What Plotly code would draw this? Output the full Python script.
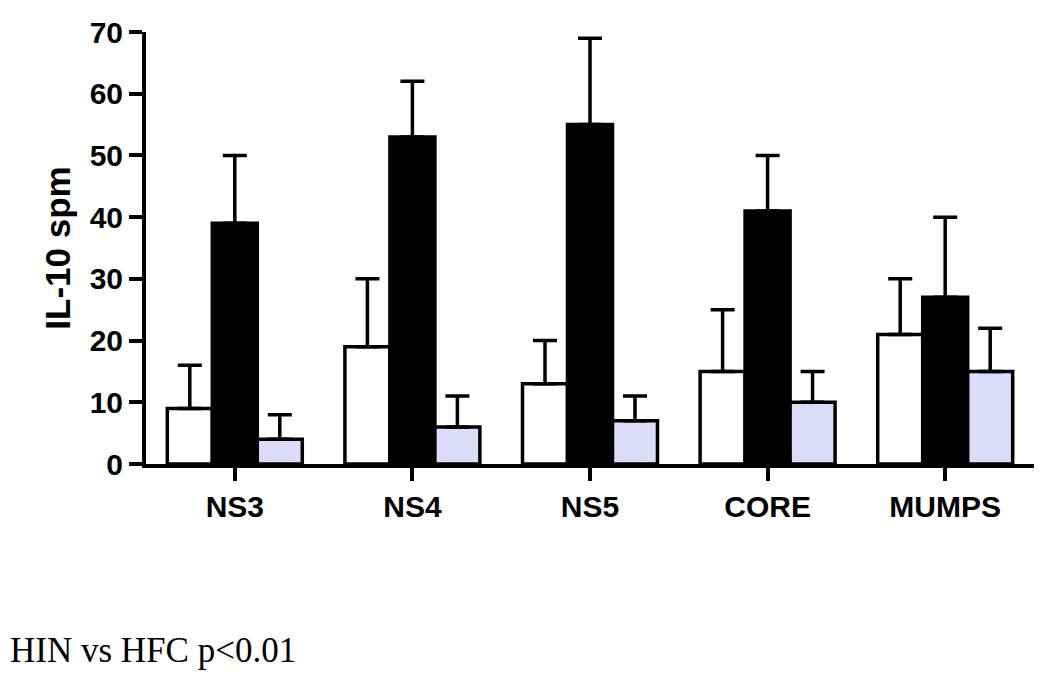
import plotly.graph_objects as go

categories = ["NS3", "NS4", "NS5", "CORE", "MUMPS"]
white_vals = [9, 19, 13, 15, 21]
white_err = [7, 11, 7, 10, 9]
black_vals = [39, 53, 55, 41, 27]
black_err = [11, 9, 14, 9, 13]
blue_vals = [4, 6, 7, 10, 15]
blue_err = [4, 5, 4, 5, 7]
y_ticks = [0, 10, 20, 30, 40, 50, 60, 70]

series = [
    ("white", white_vals, white_err, "#FFFFFF"),
    ("black", black_vals, black_err, "#000000"),
    ("blue", blue_vals, blue_err, "#DCDCF6"),
]

fig = go.Figure()
for name, vals, errs, col in series:
    fig.add_trace(go.Bar(
        x=categories, y=vals, name=name,
        marker=dict(color=col, line=dict(color="black", width=3.5)),
        error_y=dict(type="data", array=errs, arrayminus=[0] * len(errs),
                     symmetric=False, color="black", thickness=3.5, width=12),
        showlegend=False,
    ))

fig.update_layout(
    width=1050, height=678,
    margin=dict(l=138, r=24, t=24, b=222),
    paper_bgcolor="white", plot_bgcolor="white",
    barmode="group", bargap=0.24, bargroupgap=0,
    font=dict(family="Liberation Sans, Arial", color="black"),
)
fig.update_yaxes(
    range=[0, 70], tickvals=y_ticks, showgrid=False, zeroline=False,
    showline=True, linewidth=4, linecolor="black", automargin=False,
    ticks="outside", ticklen=13, tickwidth=4, tickcolor="black",
    tickfont=dict(size=30, family="Liberation Sans, Arial", weight="bold"),
    title=dict(text="IL-10 spm", font=dict(size=35, weight="bold"), standoff=9),
)
fig.update_xaxes(
    range=[-0.5, 4.5], showgrid=False, zeroline=False, automargin=False,
    showline=True, linewidth=4, linecolor="black",
    ticks="outside", ticklen=13, tickwidth=4, tickcolor="black",
    tickfont=dict(size=30, family="Liberation Sans, Arial", weight="bold"),
)
fig.add_annotation(
    text="HIN vs HFC p<0.01", xref="paper", yref="paper",
    x=(0 - 138) / 888, y=(456 - 642) / 432, xanchor="left", yanchor="middle",
    showarrow=False, font=dict(family="Liberation Serif, Times New Roman", size=35, color="black"),
)
fig.write_html("out.html")
